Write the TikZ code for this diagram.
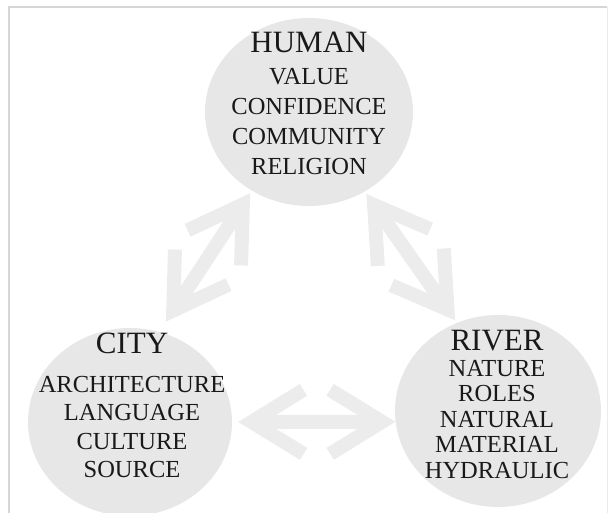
\documentclass[tikz,border=0pt]{standalone}
\usepackage{fontspec}
\setmainfont{Liberation Serif}
\usetikzlibrary{arrows.meta, shapes.geometric}

\definecolor{discgray}{gray}{0.905}
\definecolor{arrowgray}{gray}{0.925}
\definecolor{framegray}{gray}{0.84}

\newcommand{\headfont}{\fontsize{31}{31}\selectfont}

\tikzset{
  disc/.style={ellipse, fill=discgray, inner sep=0pt},
  words/.style={anchor=north, align=center, inner sep=0pt, text=black!90},
  link/.style={arrowgray, line width=14pt,
    {Straight Barb[length=52pt, width=64pt]}-{Straight Barb[length=52pt, width=64pt]}}
}

\begin{document}
\begin{tikzpicture}[x=1pt, y=-1pt]
  \useasboundingbox (0,0) rectangle (614,513);

  % frame
  \draw[framegray, line width=1.5pt] (9,513) -- (9,7) -- (607,7);
  \draw[framegray!50, line width=1pt] (607,7) -- (607,513);

  % the three discs
  \node[disc, minimum width=208pt, minimum height=188pt] (human) at (309,112) {};
  \node[disc, minimum width=204pt, minimum height=188pt] (city) at (130,422) {};
  \node[disc, minimum width=206pt, minimum height=192pt] (river) at (498,411) {};

  % links
  \draw[link, shorten <=12pt, shorten >=3pt] (city.72) -- (human.234);
  \draw[link, shorten <=3pt, shorten >=3pt] (human.305) -- (river.115);
  \draw[link, shorten <=6pt] (city.0) -- (river.186);

  % texts
  \node[words, font=\fontsize{24.5}{30}\selectfont] (humantext) at (309,32)
    {{\headfont HUMAN}\\[2pt] VALUE\\ CONFIDENCE\\ COMMUNITY\\ RELIGION};
  \node[words, font=\fontsize{24.5}{28.5}\selectfont] (citytext) at (132,333)
    {{\headfont CITY}\\[10pt] ARCHITECTURE\\ LANGUAGE\\ CULTURE\\ SOURCE};
  \node[words, font=\fontsize{24.5}{25.6}\selectfont] (rivertext) at (497,330)
    {{\headfont RIVER}\\ NATURE\\ ROLES\\ NATURAL\\ MATERIAL\\ HYDRAULIC};
\end{tikzpicture}
\end{document}
